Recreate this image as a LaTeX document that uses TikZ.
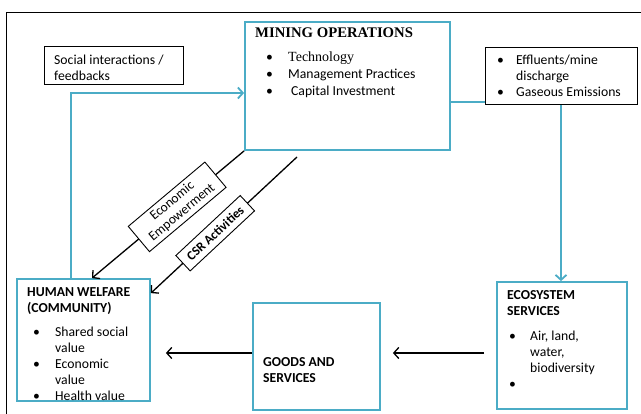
\documentclass[tikz,border=0pt]{standalone}
\usepackage{fontspec}
\setmainfont{Carlito}
\newfontfamily\titleserif{Liberation Serif}
\usepackage{tikz}
\usetikzlibrary{arrows.meta, calc, positioning}
\definecolor{boxcyan}{RGB}{75,172,198}
\newcommand{\bul}[2][0pt]{\hspace*{#1}\makebox[#2][l]{\textbullet}}

\begin{document}
\begin{tikzpicture}[x=1pt, y=-1pt, font=\fontsize{13.7}{16}\selectfont,
    cbox/.style={draw=boxcyan, line width=1.8pt, inner sep=0pt},
    kbox/.style={draw=black, line width=1pt, inner sep=0pt},
    txt/.style={anchor=north west, align=left, inner sep=0pt},
    cline/.style={draw=boxcyan, line width=1.8pt},
    carrow/.style={cline, -{Straight Barb[length=5pt,width=11pt]}},
    karrow/.style={draw=black, line width=1.3pt, -{Straight Barb[length=5pt,width=11pt]}},
    tag/.style={draw=black, fill=white, line width=0.9pt, align=center, inner sep=2pt}]
    \useasboundingbox (0,0) rectangle (641,414);
    \draw[line width=0.8pt] (6,414) -- (6,12) -- (641,12);

    % boxes
    \node[cbox, minimum width=205pt, minimum height=128pt] (mining) at (347.5,86) {};
    \node[kbox, minimum width=139pt, minimum height=38pt] (social) at (113.5,66) {};
    \node[kbox, minimum width=152pt, minimum height=57pt] (effl) at (561,76.5) {};
    \node[cbox, minimum width=130pt, minimum height=127pt] (eco) at (562,345.5) {};
    \node[cbox, minimum width=127pt, minimum height=107pt] (goods) at (316.5,356.5) {};
    \node[cbox, minimum width=133pt, minimum height=122pt] (human) at (83.5,340) {};

    % texts
    \node[txt, font=\fontsize{13.7}{17}\selectfont] (miningtxt) at (255,28)
        {{\titleserif\bfseries\fontsize{14.7}{17}\selectfont MINING OPERATIONS}\\[7pt]
         \bul[11pt]{22pt}{\titleserif\fontsize{14}{17}\selectfont Technology}\\
         \bul[11pt]{22pt}Management Practices\\
         \bul[11pt]{25pt}Capital Investment};
    \node[txt] (socialtxt) at (54,55) {Social interactions /\\feedbacks};
    \node[txt] (effltxt) at (497,55)
        {\bul{19pt}Effluents/mine\\\hspace*{19pt}discharge\\\bul{19pt}Gaseous Emissions};
    \node[txt] (humantxt) at (27,287)
        {\textbf{HUMAN WELFARE}\\\textbf{(COMMUNITY)}\\[8pt]
         \bul[6pt]{22pt}Shared social\\\hspace*{28pt}value\\
         \bul[6pt]{22pt}Economic\\\hspace*{28pt}value\\
         \bul[6pt]{22pt}Health value};
    \node[txt] (ecotxt) at (507,290)
        {\textbf{ECOSYSTEM}\\\textbf{SERVICES}\\[9pt]
         \bul[2pt]{21pt}Air, land,\\\hspace*{23pt}water,\\\hspace*{23pt}biodiversity\\
         \bul[2pt]{21pt}};
    \node[txt] (goodstxt) at (263,357) {\textbf{GOODS AND}\\\textbf{SERVICES}};

    % connectors
    \coordinate (csrstart) at (297,157);
    \draw[cline] ([yshift=-16pt]mining.east) -- ([yshift=-16pt]mining.east -| effl.west);
    \draw[carrow] (effl.south) -- (effl.south |- eco.north);
    \draw[carrow] ([xshift=-12.5pt]human.north) |- ([yshift=-7pt]mining.west);
    \draw[karrow, shorten <=12pt, shorten >=12pt]
        ([yshift=3.5pt]goods.east -| eco.west) -- ([yshift=3.5pt]goods.east);
    \draw[karrow, shorten >=15pt]
        ([yshift=3.5pt]goods.west) -- ([yshift=3.5pt]goods.west -| human.east);
    \draw[karrow] (mining.south west) -- node[tag, pos=0.44, rotate=40,
        minimum width=100pt, minimum height=33pt, font=\fontsize{13.5}{15}\selectfont]
        (econ) {Economic\\Empowerment} ([xshift=8.5pt]human.north);
    \draw[karrow] (csrstart) -- node[tag, pos=0.56, rotate=43,
        minimum width=88pt, minimum height=21pt, font=\fontsize{13}{14}\selectfont\bfseries]
        (csr) {CSR Activities} ([yshift=-15pt]human.north east);
\end{tikzpicture}
\end{document}
